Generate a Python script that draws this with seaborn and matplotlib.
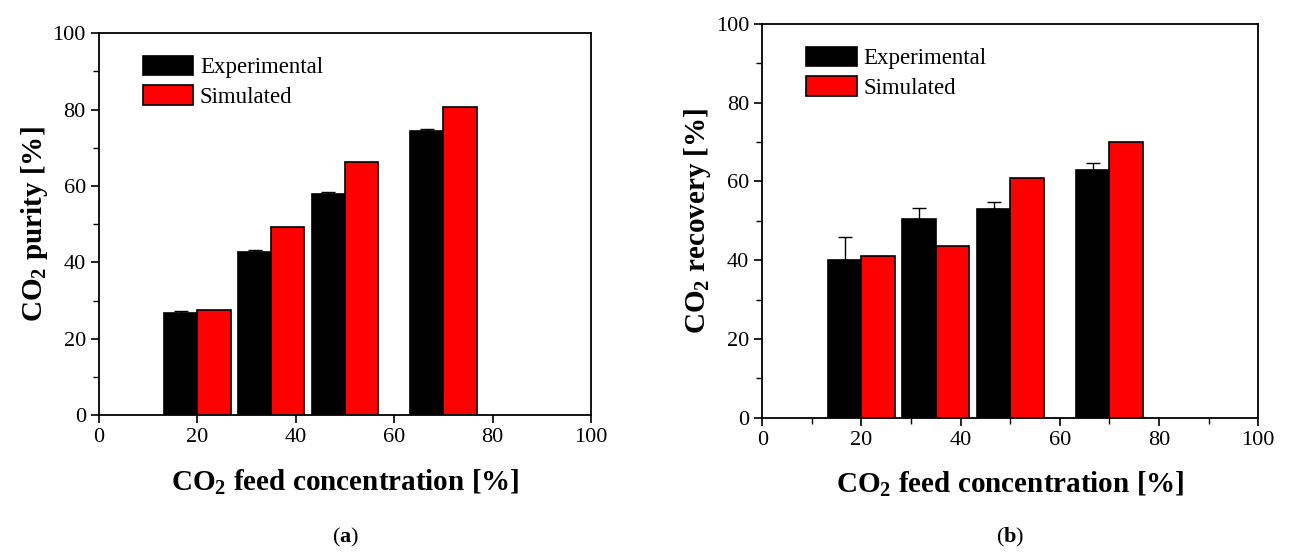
import numpy as np
import pandas as pd
import seaborn as sns
import matplotlib.pyplot as plt
from matplotlib.ticker import MultipleLocator

# CO2 feed concentration [%]
feed = [20, 35, 50, 70]
series = ["Experimental", "Simulated"]

# panel (a): purity
purity_exp = [26.8, 42.7, 58.0, 74.5]
purity_exp_err = [0.5, 0.4, 0.5, 0.4]
purity_sim = [27.4, 49.3, 66.3, 80.7]

# panel (b): recovery
recovery_exp = [40.0, 50.5, 53.1, 62.8]
recovery_exp_err = [6.0, 2.8, 1.7, 1.9]
recovery_sim = [41.0, 43.6, 60.9, 70.0]

sns.set_theme(style="white")
plt.rcParams["font.family"] = ["Liberation Serif", "DejaVu Serif"]
plt.rcParams["mathtext.fontset"] = "custom"
plt.rcParams["mathtext.rm"] = "Liberation Serif"
plt.rcParams["mathtext.bf"] = "Liberation Serif:bold"
plt.rcParams["axes.edgecolor"] = "black"
plt.rcParams["axes.linewidth"] = 1.3
plt.rcParams["text.color"] = "black"
plt.rcParams["axes.labelcolor"] = "black"
plt.rcParams["xtick.color"] = "black"
plt.rcParams["ytick.color"] = "black"


def make_df(exp, sim):
    return pd.DataFrame({
        "feed": feed + feed,
        "value": exp + sim,
        "series": [series[0]] * len(feed) + [series[1]] * len(feed),
    })


def bar_panel(ax, exp, err, sim, ylabel, minor_x):
    df = make_df(exp, sim)
    sns.barplot(data=df, x="feed", y="value", hue="series", hue_order=series,
                native_scale=True, width=0.9, dodge=True, saturation=1,
                palette={"Experimental": "black", "Simulated": "red"},
                edgecolor="black", linewidth=1.2, errorbar=None, ax=ax)

    # error bars on the experimental bars (upper side only)
    black = [p for p in ax.patches
             if p.get_height() > 0 and p.get_facecolor()[0] < 0.5]
    black.sort(key=lambda p: p.get_x())
    xs = [p.get_x() + p.get_width() / 2 for p in black]
    ax.errorbar(xs, exp, yerr=[np.zeros(len(err)), err], fmt="none",
                ecolor="black", elinewidth=1.0, capsize=5, capthick=1.0)

    ax.set_xlim(0, 100)
    ax.set_ylim(0, 100)
    ax.xaxis.set_major_locator(MultipleLocator(20))
    ax.yaxis.set_major_locator(MultipleLocator(20))
    ax.yaxis.set_minor_locator(MultipleLocator(10))
    if minor_x:
        ax.xaxis.set_minor_locator(MultipleLocator(10))
    ax.tick_params(which="major", direction="out", length=6, width=1.2,
                   labelsize=16, bottom=True, left=True, top=False, right=False,
                   colors="black")
    ax.tick_params(which="minor", direction="out", length=4, width=1.0,
                   bottom=minor_x, left=True, top=False, right=False)
    ax.set_xlabel(r"CO$_\mathbf{2}$ feed concentration [%]", fontsize=21,
                  fontweight="bold", labelpad=14)
    ax.set_ylabel(ylabel, fontsize=21, fontweight="bold", labelpad=2)
    for s in ax.spines.values():
        s.set_visible(True)
        s.set_color("black")

    sns.move_legend(ax, "upper left", bbox_to_anchor=(0.07, 0.965), frameon=False,
                    title=None, fontsize=16.5, handlelength=2.2, handleheight=0.95,
                    labelspacing=0.3, handletextpad=0.3, borderaxespad=0)


fig = plt.figure(figsize=(13.12, 5.52), dpi=100)
ax1 = fig.add_axes([0.0755, 0.248, 0.375, 0.692])
ax2 = fig.add_axes([0.581, 0.243, 0.378, 0.714])

bar_panel(ax1, purity_exp, purity_exp_err, purity_sim,
          r"CO$_\mathbf{2}$ purity [%]", minor_x=False)
bar_panel(ax2, recovery_exp, recovery_exp_err, recovery_sim,
          r"CO$_\mathbf{2}$ recovery [%]", minor_x=True)

fig.text(0.263, 0.018, r"($\mathbf{a}$)", fontsize=16, ha="center")
fig.text(0.770, 0.018, r"($\mathbf{b}$)", fontsize=16, ha="center")

fig.savefig("out.png", dpi=100)
